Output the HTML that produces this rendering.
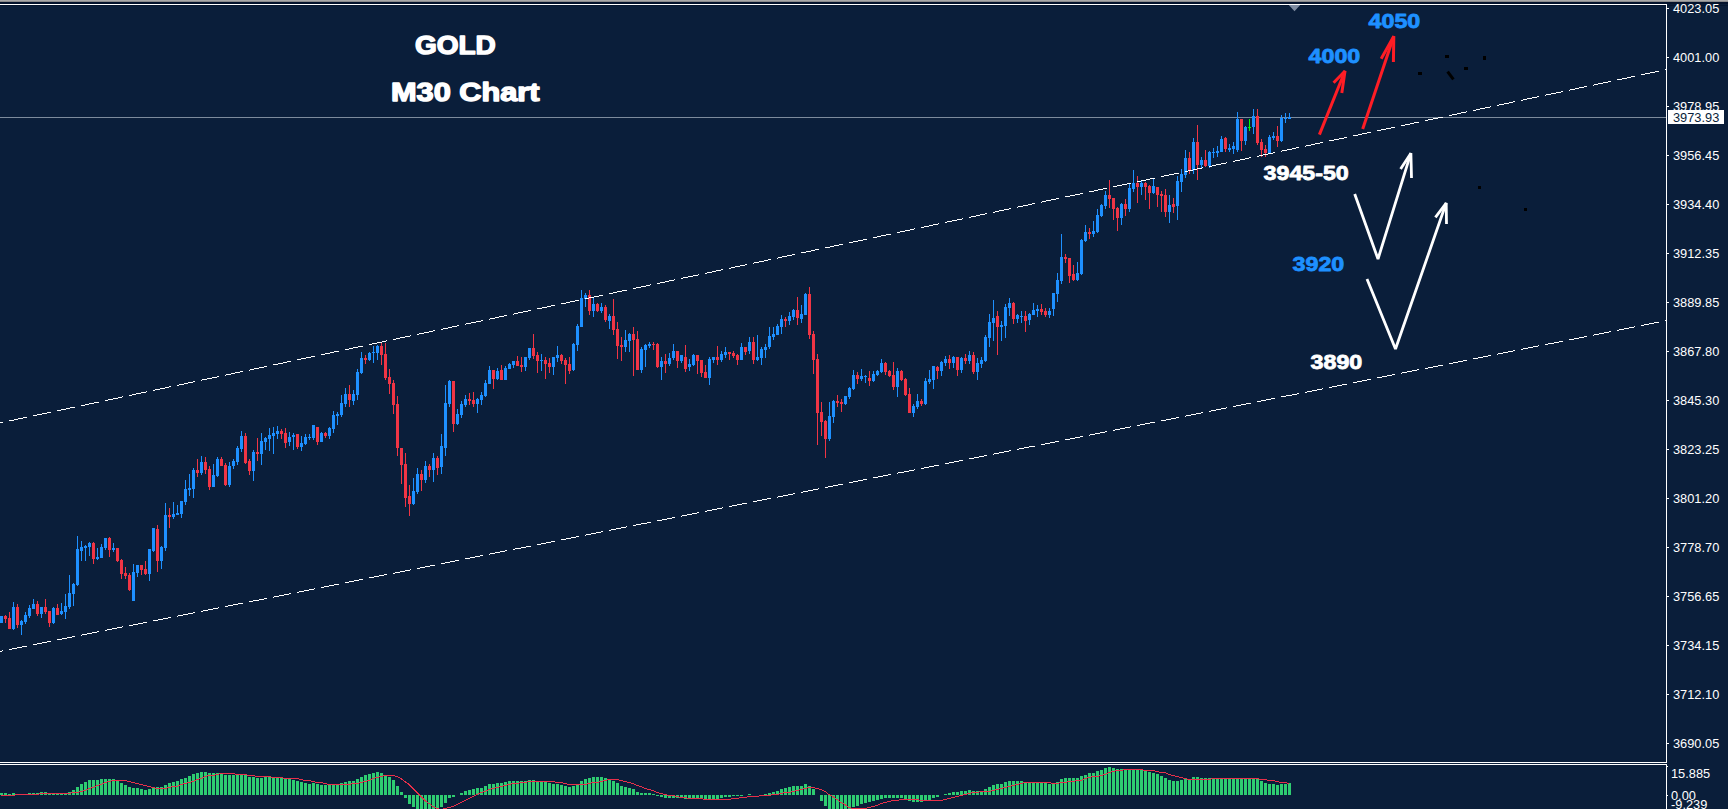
<!DOCTYPE html>
<html><head><meta charset="utf-8"><title>GOLD M30 Chart</title>
<style>
html,body{margin:0;padding:0;background:#0a1e3a;overflow:hidden}
body{width:1728px;height:809px;font-family:"Liberation Sans",sans-serif}
svg{display:block}
text{font-family:"Liberation Sans",sans-serif}
.ax{font-size:12.8px;fill:#fff}
.big{font-weight:bold;paint-order:stroke;stroke-linejoin:round}
</style></head><body>
<svg width="1728" height="809" viewBox="0 0 1728 809">
<rect x="0" y="0" width="1728" height="809" fill="#0a1e3a"/>
<rect x="0" y="0" width="1728" height="1" fill="#a9a9a9"/>
<rect x="0" y="1" width="1728" height="1" fill="#8a8a8c"/>
<rect x="0" y="2" width="1728" height="2" fill="#03122c"/>
<rect x="0" y="5" width="1728" height="1" fill="#05162f"/>
<g shape-rendering="crispEdges">
<rect x="0" y="4" width="1667" height="1" fill="#fff"/>
<rect x="1666" y="4" width="1" height="805" fill="#fff"/>
<rect x="0" y="762" width="1667" height="1" fill="#fff"/>
<rect x="0" y="764" width="1667" height="1" fill="#fff"/>
<rect x="0" y="117" width="1666" height="1" fill="#7d8b9c"/>
<rect x="1667" y="8" width="2" height="1" fill="#fff"/>
<rect x="1667" y="57" width="2" height="1" fill="#fff"/>
<rect x="1667" y="106" width="2" height="1" fill="#fff"/>
<rect x="1667" y="155" width="2" height="1" fill="#fff"/>
<rect x="1667" y="204" width="2" height="1" fill="#fff"/>
<rect x="1667" y="253" width="2" height="1" fill="#fff"/>
<rect x="1667" y="302" width="2" height="1" fill="#fff"/>
<rect x="1667" y="351" width="2" height="1" fill="#fff"/>
<rect x="1667" y="400" width="2" height="1" fill="#fff"/>
<rect x="1667" y="449" width="2" height="1" fill="#fff"/>
<rect x="1667" y="498" width="2" height="1" fill="#fff"/>
<rect x="1667" y="547" width="2" height="1" fill="#fff"/>
<rect x="1667" y="596" width="2" height="1" fill="#fff"/>
<rect x="1667" y="645" width="2" height="1" fill="#fff"/>
<rect x="1667" y="694" width="2" height="1" fill="#fff"/>
<rect x="1667" y="743" width="2" height="1" fill="#fff"/>
</g>
<text class="ax" x="1673" y="13">4023.05</text>
<text class="ax" x="1673" y="62">4001.00</text>
<text class="ax" x="1673" y="111">3978.95</text>
<text class="ax" x="1673" y="160">3956.45</text>
<text class="ax" x="1673" y="209">3934.40</text>
<text class="ax" x="1673" y="258">3912.35</text>
<text class="ax" x="1673" y="307">3889.85</text>
<text class="ax" x="1673" y="356">3867.80</text>
<text class="ax" x="1673" y="405">3845.30</text>
<text class="ax" x="1673" y="454">3823.25</text>
<text class="ax" x="1673" y="503">3801.20</text>
<text class="ax" x="1673" y="552">3778.70</text>
<text class="ax" x="1673" y="601">3756.65</text>
<text class="ax" x="1673" y="650">3734.15</text>
<text class="ax" x="1673" y="699">3712.10</text>
<text class="ax" x="1673" y="748">3690.05</text>
<rect x="1668" y="110" width="56" height="14" fill="#fff" shape-rendering="crispEdges"/>
<text class="ax" x="1673" y="122" style="fill:#0a1e3a">3973.93</text>
<g shape-rendering="crispEdges"><rect x="1667" y="766" width="1" height="1" fill="#fff"/><rect x="1667" y="795" width="1" height="1" fill="#fff"/><rect x="1666" y="763" width="1" height="1" fill="#0a1e3a"/></g>
<text class="ax" x="1671" y="778">15.885</text>
<text class="ax" x="1671" y="800">0.00</text>
<text class="ax" x="1671" y="809">-9.239</text>
<g shape-rendering="crispEdges">
<path d="M0 616h3v7h-3zM12 607h3v22h-3zM13 602h1v5h-1zM13 629h1v1h-1zM20 621h3v4h-3zM21 620h1v1h-1zM21 625h1v10h-1zM24 615h3v7h-3zM25 612h1v3h-1zM25 622h1v2h-1zM28 608h3v8h-3zM29 605h1v3h-1zM29 616h1v2h-1zM32 604h3v5h-3zM33 599h1v5h-1zM40 607h3v7h-3zM41 614h1v4h-1zM52 608h3v15h-3zM53 607h1v1h-1zM53 623h1v1h-1zM60 611h3v3h-3zM61 603h1v8h-1zM61 614h1v1h-1zM64 606h3v6h-3zM65 594h1v12h-1zM65 612h1v7h-1zM68 593h3v14h-3zM69 575h1v18h-1zM69 607h1v2h-1zM72 584h3v10h-3zM73 583h1v1h-1zM73 594h1v12h-1zM76 549h3v36h-3zM77 536h1v13h-1zM77 585h1v1h-1zM80 547h3v4h-3zM81 541h1v6h-1zM81 551h1v10h-1zM84 546h3v2h-3zM85 545h1v1h-1zM85 548h1v13h-1zM88 543h3v4h-3zM89 542h1v1h-1zM89 547h1v9h-1zM96 557h3v2h-3zM97 548h1v9h-1zM97 559h1v1h-1zM100 547h3v11h-3zM101 544h1v3h-1zM104 538h3v10h-3zM105 548h1v2h-1zM112 548h3v2h-3zM113 543h1v5h-1zM113 550h1v2h-1zM132 572h3v29h-3zM133 564h1v8h-1zM136 565h3v8h-3zM137 573h1v4h-1zM148 549h3v25h-3zM149 574h1v7h-1zM152 528h3v23h-3zM153 551h1v1h-1zM160 547h3v14h-3zM161 546h1v1h-1zM161 561h1v8h-1zM164 515h3v33h-3zM165 503h1v12h-1zM165 548h1v3h-1zM172 514h3v3h-3zM173 502h1v12h-1zM173 517h1v2h-1zM176 513h3v2h-3zM177 505h1v8h-1zM180 501h3v13h-3zM181 514h1v4h-1zM184 489h3v13h-3zM185 480h1v9h-1zM185 502h1v3h-1zM188 488h3v2h-3zM189 474h1v14h-1zM189 490h1v6h-1zM192 470h3v19h-3zM193 468h1v2h-1zM193 489h1v9h-1zM200 462h3v11h-3zM201 456h1v6h-1zM201 473h1v2h-1zM212 475h3v12h-3zM213 464h1v11h-1zM216 459h3v17h-3zM217 457h1v2h-1zM217 476h1v1h-1zM228 466h3v19h-3zM229 462h1v4h-1zM229 485h1v2h-1zM232 461h3v5h-3zM233 459h1v2h-1zM233 466h1v3h-1zM236 448h3v14h-3zM237 446h1v2h-1zM237 462h1v3h-1zM240 436h3v13h-3zM241 431h1v5h-1zM241 449h1v3h-1zM252 452h3v19h-3zM253 450h1v2h-1zM253 471h1v10h-1zM260 441h3v13h-3zM261 433h1v8h-1zM261 454h1v11h-1zM264 438h3v4h-3zM265 437h1v1h-1zM265 442h1v8h-1zM268 435h3v4h-3zM269 428h1v7h-1zM269 439h1v12h-1zM272 433h3v3h-3zM273 427h1v6h-1zM273 436h1v18h-1zM276 431h3v3h-3zM277 426h1v5h-1zM277 434h1v5h-1zM288 437h3v5h-3zM289 432h1v5h-1zM289 442h1v4h-1zM292 435h3v2h-3zM293 433h1v2h-1zM293 437h1v13h-1zM300 443h3v4h-3zM301 436h1v7h-1zM301 447h1v4h-1zM304 437h3v7h-3zM305 434h1v3h-1zM305 444h1v1h-1zM308 437h3v1h-3zM309 434h1v3h-1zM309 438h1v2h-1zM312 425h3v13h-3zM313 438h1v2h-1zM320 433h3v9h-3zM321 432h1v1h-1zM328 428h3v8h-3zM329 427h1v1h-1zM329 436h1v3h-1zM332 415h3v14h-3zM333 411h1v4h-1zM333 429h1v4h-1zM336 414h3v2h-3zM337 412h1v2h-1zM337 416h1v9h-1zM340 403h3v12h-3zM341 395h1v8h-1zM341 415h1v2h-1zM344 394h3v10h-3zM345 388h1v6h-1zM345 404h1v3h-1zM352 394h3v7h-3zM353 390h1v4h-1zM353 401h1v4h-1zM356 372h3v23h-3zM357 369h1v3h-1zM357 395h1v5h-1zM360 358h3v15h-3zM361 352h1v6h-1zM361 373h1v1h-1zM368 353h3v7h-3zM369 352h1v1h-1zM369 360h1v1h-1zM372 352h3v1h-3zM373 346h1v6h-1zM373 353h1v10h-1zM376 346h3v7h-3zM377 345h1v1h-1zM377 353h1v7h-1zM412 491h3v13h-3zM413 478h1v13h-1zM413 504h1v1h-1zM416 474h3v18h-3zM417 468h1v6h-1zM417 492h1v2h-1zM424 466h3v14h-3zM425 461h1v5h-1zM425 480h1v3h-1zM432 458h3v12h-3zM433 453h1v5h-1zM433 470h1v12h-1zM440 446h3v21h-3zM441 434h1v12h-1zM441 467h1v7h-1zM444 403h3v45h-3zM445 385h1v18h-1zM445 448h1v8h-1zM448 381h3v23h-3zM449 380h1v1h-1zM449 404h1v3h-1zM456 414h3v10h-3zM457 409h1v5h-1zM457 424h1v1h-1zM460 404h3v11h-3zM461 401h1v3h-1zM461 415h1v3h-1zM464 399h3v6h-3zM465 395h1v4h-1zM465 405h1v2h-1zM476 399h3v5h-3zM477 398h1v1h-1zM477 404h1v9h-1zM480 395h3v5h-3zM481 392h1v3h-1zM481 400h1v5h-1zM484 383h3v13h-3zM485 380h1v3h-1zM485 396h1v1h-1zM488 370h3v14h-3zM489 366h1v4h-1zM496 371h3v8h-3zM497 368h1v3h-1zM497 379h1v1h-1zM504 368h3v12h-3zM505 366h1v2h-1zM508 364h3v5h-3zM509 363h1v1h-1zM512 361h3v4h-3zM513 365h1v3h-1zM524 357h3v10h-3zM525 367h1v4h-1zM528 348h3v10h-3zM529 358h1v2h-1zM540 360h3v1h-3zM541 354h1v6h-1zM541 361h1v10h-1zM552 357h3v10h-3zM553 367h1v8h-1zM556 355h3v3h-3zM557 346h1v9h-1zM557 358h1v4h-1zM572 344h3v26h-3zM573 343h1v1h-1zM573 370h1v1h-1zM576 326h3v19h-3zM577 324h1v2h-1zM577 345h1v6h-1zM580 298h3v29h-3zM581 290h1v8h-1zM584 295h3v4h-3zM585 293h1v2h-1zM585 299h1v8h-1zM592 304h3v7h-3zM593 298h1v6h-1zM593 311h1v6h-1zM600 307h3v4h-3zM601 303h1v4h-1zM601 311h1v2h-1zM608 316h3v5h-3zM609 314h1v2h-1zM609 321h1v8h-1zM624 340h3v7h-3zM625 330h1v10h-1zM625 347h1v5h-1zM628 334h3v7h-3zM629 333h1v1h-1zM629 341h1v11h-1zM640 349h3v21h-3zM641 347h1v2h-1zM641 370h1v3h-1zM644 345h3v5h-3zM645 344h1v1h-1zM645 350h1v17h-1zM648 344h3v2h-3zM649 342h1v2h-1zM649 346h1v2h-1zM660 361h3v6h-3zM661 357h1v4h-1zM661 367h1v13h-1zM668 358h3v6h-3zM669 353h1v5h-1zM669 364h1v2h-1zM672 351h3v7h-3zM673 344h1v7h-1zM673 358h1v2h-1zM680 355h3v6h-3zM681 361h1v2h-1zM688 364h3v3h-3zM689 359h1v5h-1zM689 367h1v4h-1zM692 355h3v10h-3zM693 354h1v1h-1zM693 365h1v1h-1zM708 359h3v19h-3zM709 357h1v2h-1zM709 378h1v7h-1zM712 357h3v3h-3zM713 360h1v3h-1zM720 354h3v6h-3zM721 351h1v3h-1zM721 360h1v2h-1zM724 352h3v3h-3zM725 347h1v5h-1zM725 355h1v3h-1zM740 347h3v13h-3zM741 343h1v4h-1zM748 342h3v9h-3zM749 337h1v5h-1zM749 351h1v3h-1zM756 357h3v3h-3zM757 335h1v22h-1zM757 360h1v1h-1zM760 349h3v9h-3zM761 347h1v2h-1zM761 358h1v7h-1zM764 347h3v3h-3zM765 344h1v3h-1zM765 350h1v8h-1zM768 336h3v11h-3zM769 327h1v9h-1zM769 347h1v2h-1zM772 334h3v3h-3zM773 327h1v7h-1zM773 337h1v3h-1zM776 326h3v9h-3zM777 324h1v2h-1zM780 319h3v8h-3zM781 315h1v4h-1zM781 327h1v7h-1zM788 316h3v5h-3zM789 312h1v4h-1zM789 321h1v4h-1zM792 310h3v7h-3zM793 309h1v1h-1zM793 317h1v3h-1zM800 314h3v5h-3zM801 305h1v9h-1zM801 319h1v4h-1zM804 294h3v21h-3zM805 293h1v1h-1zM828 416h3v23h-3zM829 402h1v14h-1zM829 439h1v2h-1zM832 401h3v16h-3zM833 400h1v1h-1zM833 417h1v6h-1zM844 396h3v8h-3zM845 404h1v1h-1zM848 388h3v9h-3zM849 387h1v1h-1zM849 397h1v2h-1zM852 375h3v14h-3zM853 370h1v5h-1zM853 389h1v1h-1zM860 376h3v3h-3zM861 369h1v7h-1zM861 379h1v2h-1zM864 376h3v1h-3zM865 375h1v1h-1zM865 377h1v6h-1zM872 374h3v7h-3zM873 371h1v3h-1zM873 381h1v1h-1zM876 371h3v4h-3zM877 370h1v1h-1zM877 375h1v1h-1zM880 363h3v9h-3zM881 359h1v4h-1zM881 372h1v1h-1zM896 371h3v16h-3zM897 368h1v3h-1zM897 387h1v10h-1zM912 406h3v7h-3zM913 404h1v2h-1zM913 413h1v4h-1zM916 401h3v6h-3zM917 394h1v7h-1zM917 407h1v2h-1zM924 381h3v23h-3zM925 378h1v3h-1zM925 404h1v1h-1zM928 379h3v3h-3zM929 370h1v9h-1zM929 382h1v2h-1zM932 366h3v14h-3zM933 380h1v9h-1zM940 362h3v9h-3zM941 361h1v1h-1zM941 371h1v5h-1zM944 359h3v4h-3zM945 356h1v3h-1zM945 363h1v3h-1zM952 357h3v6h-3zM953 356h1v1h-1zM953 363h1v5h-1zM960 358h3v12h-3zM961 357h1v1h-1zM961 370h1v3h-1zM968 355h3v6h-3zM969 351h1v4h-1zM969 361h1v3h-1zM976 363h3v9h-3zM977 358h1v5h-1zM977 372h1v8h-1zM980 360h3v4h-3zM981 357h1v3h-1zM981 364h1v4h-1zM984 337h3v24h-3zM985 335h1v2h-1zM985 361h1v1h-1zM988 322h3v16h-3zM989 314h1v8h-1zM989 338h1v9h-1zM992 318h3v5h-3zM993 300h1v18h-1zM993 323h1v18h-1zM1000 325h3v2h-3zM1001 321h1v4h-1zM1001 327h1v14h-1zM1004 307h3v19h-3zM1005 304h1v3h-1zM1005 326h1v12h-1zM1008 303h3v5h-3zM1009 298h1v5h-1zM1009 308h1v8h-1zM1016 315h3v4h-3zM1017 314h1v1h-1zM1017 319h1v4h-1zM1020 316h3v1h-3zM1021 311h1v5h-1zM1021 317h1v6h-1zM1028 314h3v6h-3zM1029 313h1v1h-1zM1029 320h1v5h-1zM1032 310h3v5h-3zM1033 303h1v7h-1zM1036 309h3v2h-3zM1037 305h1v4h-1zM1037 311h1v6h-1zM1048 311h3v4h-3zM1049 308h1v3h-1zM1049 315h1v3h-1zM1052 293h3v16h-3zM1053 309h1v7h-1zM1056 280h3v14h-3zM1057 273h1v7h-1zM1057 294h1v8h-1zM1060 257h3v24h-3zM1061 234h1v23h-1zM1061 281h1v3h-1zM1076 273h3v7h-3zM1077 262h1v11h-1zM1077 280h1v1h-1zM1080 240h3v34h-3zM1081 239h1v1h-1zM1081 274h1v1h-1zM1084 232h3v9h-3zM1085 225h1v7h-1zM1085 241h1v1h-1zM1092 231h3v3h-3zM1093 221h1v10h-1zM1093 234h1v3h-1zM1096 215h3v17h-3zM1097 209h1v6h-1zM1097 232h1v1h-1zM1100 205h3v11h-3zM1101 204h1v1h-1zM1101 216h1v1h-1zM1104 195h3v11h-3zM1105 191h1v4h-1zM1105 206h1v3h-1zM1120 204h3v14h-3zM1121 203h1v1h-1zM1121 218h1v7h-1zM1128 188h3v21h-3zM1129 184h1v4h-1zM1129 209h1v3h-1zM1132 183h3v6h-3zM1133 170h1v13h-1zM1133 189h1v3h-1zM1140 183h3v4h-3zM1141 181h1v2h-1zM1141 187h1v8h-1zM1152 186h3v7h-3zM1153 178h1v8h-1zM1153 193h1v1h-1zM1168 205h3v7h-3zM1169 195h1v10h-1zM1169 212h1v11h-1zM1176 181h3v25h-3zM1177 176h1v5h-1zM1177 206h1v14h-1zM1180 174h3v8h-3zM1181 169h1v5h-1zM1181 182h1v10h-1zM1184 158h3v17h-3zM1185 150h1v8h-1zM1185 175h1v3h-1zM1192 142h3v28h-3zM1193 138h1v4h-1zM1193 170h1v4h-1zM1200 160h3v5h-3zM1201 157h1v3h-1zM1201 165h1v3h-1zM1208 152h3v14h-3zM1209 151h1v1h-1zM1209 166h1v2h-1zM1212 152h3v1h-3zM1213 148h1v4h-1zM1213 153h1v5h-1zM1216 151h3v2h-3zM1217 146h1v5h-1zM1217 153h1v4h-1zM1220 139h3v13h-3zM1221 136h1v3h-1zM1228 148h3v2h-3zM1229 144h1v4h-1zM1229 150h1v2h-1zM1232 146h3v3h-3zM1233 142h1v4h-1zM1233 149h1v5h-1zM1236 119h3v31h-3zM1237 112h1v7h-1zM1237 150h1v2h-1zM1244 127h3v14h-3zM1245 126h1v1h-1zM1245 141h1v4h-1zM1252 116h3v11h-3zM1253 109h1v7h-1zM1253 127h1v7h-1zM1268 137h3v16h-3zM1269 135h1v2h-1zM1272 136h3v2h-3zM1273 132h1v4h-1zM1273 138h1v2h-1zM1280 118h3v23h-3zM1281 115h1v3h-1zM1281 141h1v1h-1zM1284 118h3v1h-3zM1285 113h1v5h-1zM1285 119h1v4h-1zM1288 117h3v2h-3zM1289 113h1v4h-1z" fill="#1e90ff"/>
<path d="M4 616h3v3h-3zM5 615h1v1h-1zM5 619h1v4h-1zM8 618h3v11h-3zM9 612h1v6h-1zM16 607h3v18h-3zM17 604h1v3h-1zM17 625h1v3h-1zM36 604h3v10h-3zM37 601h1v3h-1zM37 614h1v2h-1zM44 607h3v5h-3zM45 599h1v8h-1zM45 612h1v2h-1zM48 611h3v12h-3zM49 623h1v4h-1zM56 608h3v7h-3zM57 604h1v4h-1zM92 543h3v16h-3zM93 542h1v1h-1zM93 559h1v5h-1zM108 538h3v12h-3zM109 537h1v1h-1zM109 550h1v7h-1zM116 548h3v13h-3zM117 561h1v1h-1zM120 560h3v14h-3zM121 559h1v1h-1zM121 574h1v5h-1zM124 573h3v3h-3zM125 567h1v6h-1zM125 576h1v3h-1zM128 575h3v15h-3zM129 573h1v2h-1zM129 590h1v1h-1zM140 565h3v5h-3zM141 570h1v5h-1zM144 569h3v5h-3zM145 561h1v8h-1zM145 574h1v1h-1zM156 529h3v32h-3zM157 525h1v4h-1zM157 561h1v11h-1zM168 515h3v2h-3zM169 508h1v7h-1zM169 517h1v11h-1zM196 470h3v3h-3zM197 459h1v11h-1zM197 473h1v4h-1zM204 462h3v8h-3zM205 457h1v5h-1zM205 470h1v4h-1zM208 469h3v18h-3zM209 466h1v3h-1zM209 487h1v3h-1zM220 459h3v7h-3zM221 457h1v2h-1zM224 465h3v20h-3zM225 463h1v2h-1zM225 485h1v1h-1zM244 436h3v27h-3zM245 433h1v3h-1zM245 463h1v1h-1zM248 461h3v10h-3zM249 459h1v2h-1zM249 471h1v4h-1zM256 452h3v2h-3zM257 438h1v14h-1zM257 454h1v7h-1zM280 431h3v3h-3zM281 429h1v2h-1zM281 434h1v5h-1zM284 433h3v10h-3zM285 428h1v5h-1zM285 443h1v5h-1zM296 434h3v13h-3zM297 447h1v2h-1zM316 427h3v15h-3zM317 442h1v3h-1zM324 433h3v3h-3zM325 432h1v1h-1zM325 436h1v2h-1zM348 394h3v6h-3zM349 385h1v9h-1zM349 400h1v7h-1zM364 358h3v2h-3zM365 355h1v3h-1zM365 360h1v4h-1zM380 346h3v9h-3zM381 342h1v4h-1zM381 355h1v10h-1zM384 354h3v24h-3zM385 343h1v11h-1zM385 378h1v2h-1zM388 377h3v7h-3zM389 369h1v8h-1zM389 384h1v10h-1zM392 383h3v22h-3zM393 380h1v3h-1zM393 405h1v9h-1zM396 404h3v44h-3zM397 396h1v8h-1zM397 448h1v8h-1zM400 448h3v17h-3zM401 465h1v19h-1zM404 464h3v34h-3zM405 453h1v11h-1zM405 498h1v9h-1zM408 496h3v8h-3zM409 485h1v11h-1zM409 504h1v12h-1zM420 474h3v6h-3zM421 470h1v4h-1zM421 480h1v11h-1zM428 466h3v4h-3zM429 464h1v2h-1zM429 470h1v7h-1zM436 458h3v10h-3zM437 456h1v2h-1zM437 468h1v7h-1zM452 381h3v43h-3zM453 424h1v8h-1zM468 399h3v2h-3zM469 393h1v6h-1zM469 401h1v4h-1zM472 400h3v4h-3zM473 392h1v8h-1zM473 404h1v3h-1zM492 370h3v9h-3zM493 379h1v10h-1zM500 370h3v10h-3zM501 365h1v5h-1zM516 361h3v5h-3zM517 356h1v5h-1zM520 365h3v2h-3zM521 357h1v8h-1zM521 367h1v5h-1zM532 348h3v8h-3zM533 334h1v14h-1zM533 356h1v3h-1zM536 355h3v6h-3zM537 352h1v3h-1zM537 361h1v12h-1zM544 360h3v4h-3zM545 357h1v3h-1zM545 364h1v15h-1zM548 363h3v4h-3zM549 358h1v5h-1zM549 367h1v6h-1zM560 355h3v6h-3zM561 354h1v1h-1zM561 361h1v3h-1zM564 360h3v5h-3zM565 358h1v2h-1zM565 365h1v19h-1zM568 364h3v7h-3zM569 357h1v7h-1zM569 371h1v3h-1zM588 295h3v16h-3zM589 290h1v5h-1zM589 311h1v4h-1zM596 304h3v7h-3zM597 303h1v1h-1zM597 311h1v1h-1zM604 307h3v13h-3zM605 305h1v2h-1zM605 320h1v2h-1zM612 316h3v14h-3zM613 299h1v17h-1zM613 330h1v5h-1zM616 329h3v17h-3zM617 322h1v7h-1zM617 346h1v13h-1zM620 345h3v2h-3zM621 337h1v8h-1zM621 347h1v14h-1zM632 334h3v6h-3zM633 327h1v7h-1zM633 340h1v36h-1zM636 339h3v31h-3zM637 331h1v8h-1zM652 344h3v1h-3zM653 342h1v2h-1zM653 345h1v5h-1zM656 344h3v23h-3zM657 343h1v1h-1zM657 367h1v1h-1zM664 361h3v3h-3zM665 354h1v7h-1zM665 364h1v9h-1zM676 351h3v10h-3zM677 361h1v7h-1zM684 357h3v12h-3zM685 345h1v12h-1zM685 369h1v3h-1zM696 355h3v6h-3zM697 361h1v13h-1zM700 360h3v13h-3zM701 373h1v4h-1zM704 372h3v6h-3zM705 365h1v7h-1zM716 357h3v3h-3zM717 346h1v11h-1zM717 360h1v5h-1zM728 352h3v2h-3zM729 354h1v6h-1zM732 353h3v3h-3zM733 351h1v2h-1zM733 356h1v2h-1zM736 355h3v5h-3zM737 354h1v1h-1zM737 360h1v5h-1zM744 347h3v5h-3zM745 352h1v3h-1zM752 342h3v18h-3zM753 337h1v5h-1zM753 360h1v4h-1zM784 319h3v2h-3zM785 317h1v2h-1zM785 321h1v6h-1zM796 310h3v8h-3zM797 297h1v13h-1zM797 318h1v7h-1zM808 294h3v41h-3zM809 287h1v7h-1zM809 335h1v4h-1zM812 334h3v26h-3zM813 331h1v3h-1zM813 360h1v14h-1zM816 359h3v54h-3zM817 354h1v5h-1zM817 413h1v32h-1zM820 412h3v10h-3zM821 402h1v10h-1zM821 422h1v14h-1zM824 421h3v18h-3zM825 420h1v1h-1zM825 439h1v19h-1zM836 401h3v2h-3zM837 395h1v6h-1zM837 403h1v4h-1zM840 402h3v2h-3zM841 399h1v3h-1zM841 404h1v8h-1zM856 375h3v4h-3zM857 372h1v3h-1zM857 379h1v5h-1zM868 378h3v3h-3zM869 371h1v7h-1zM869 381h1v5h-1zM884 363h3v9h-3zM885 362h1v1h-1zM885 372h1v3h-1zM888 371h3v5h-3zM889 370h1v1h-1zM889 376h1v1h-1zM892 375h3v12h-3zM893 362h1v13h-1zM893 387h1v3h-1zM900 371h3v9h-3zM901 370h1v1h-1zM901 380h1v1h-1zM904 379h3v16h-3zM905 378h1v1h-1zM905 395h1v1h-1zM908 394h3v19h-3zM909 388h1v6h-1zM920 401h3v3h-3zM921 399h1v2h-1zM921 404h1v2h-1zM936 367h3v4h-3zM937 366h1v1h-1zM937 371h1v8h-1zM948 359h3v4h-3zM949 355h1v4h-1zM949 363h1v6h-1zM956 357h3v13h-3zM957 370h1v6h-1zM964 358h3v3h-3zM965 354h1v4h-1zM965 361h1v3h-1zM972 355h3v17h-3zM973 352h1v3h-1zM973 372h1v2h-1zM996 316h3v11h-3zM997 311h1v5h-1zM997 327h1v28h-1zM1012 303h3v16h-3zM1013 302h1v1h-1zM1013 319h1v5h-1zM1024 316h3v5h-3zM1025 311h1v5h-1zM1025 321h1v11h-1zM1040 309h3v3h-3zM1041 304h1v5h-1zM1041 312h1v3h-1zM1044 311h3v4h-3zM1045 308h1v3h-1zM1045 315h1v2h-1zM1064 257h3v2h-3zM1065 254h1v3h-1zM1065 259h1v4h-1zM1068 258h3v18h-3zM1069 276h1v7h-1zM1072 274h3v6h-3zM1073 265h1v9h-1zM1073 280h1v1h-1zM1088 232h3v2h-3zM1089 228h1v4h-1zM1089 234h1v5h-1zM1108 195h3v4h-3zM1109 180h1v15h-1zM1109 199h1v9h-1zM1112 198h3v11h-3zM1113 209h1v11h-1zM1116 208h3v10h-3zM1117 207h1v1h-1zM1117 218h1v13h-1zM1124 204h3v5h-3zM1125 199h1v5h-1zM1125 209h1v7h-1zM1136 183h3v4h-3zM1137 176h1v7h-1zM1137 187h1v16h-1zM1144 183h3v4h-3zM1145 182h1v1h-1zM1145 187h1v13h-1zM1148 186h3v7h-3zM1149 185h1v1h-1zM1149 193h1v16h-1zM1156 187h3v8h-3zM1157 195h1v12h-1zM1160 194h3v2h-3zM1161 191h1v3h-1zM1161 196h1v16h-1zM1164 195h3v17h-3zM1165 189h1v6h-1zM1165 212h1v5h-1zM1172 204h3v3h-3zM1173 198h1v6h-1zM1173 207h1v6h-1zM1188 158h3v13h-3zM1189 152h1v6h-1zM1189 171h1v3h-1zM1196 142h3v23h-3zM1197 125h1v17h-1zM1197 165h1v15h-1zM1204 160h3v6h-3zM1205 150h1v10h-1zM1205 166h1v1h-1zM1224 138h3v11h-3zM1225 137h1v1h-1zM1225 149h1v3h-1zM1240 119h3v22h-3zM1241 141h1v10h-1zM1256 116h3v27h-3zM1257 109h1v7h-1zM1257 143h1v2h-1zM1260 142h3v8h-3zM1261 139h1v3h-1zM1261 150h1v7h-1zM1264 149h3v4h-3zM1265 145h1v4h-1zM1265 153h1v4h-1zM1276 136h3v5h-3zM1277 126h1v10h-1zM1277 141h1v6h-1z" fill="#f03545"/>
<path d="M1248 127h3v1h-3zM1249 119h1v8h-1zM1249 128h1v3h-1z" fill="#00ff00"/>
</g>
<path d="M0 422.5h3M9 420.5h5M14 419.5h4M18 418.5h5M23 417.5h4M33 415.5h4M37 414.5h5M42 413.5h5M47 412.5h4M57 410.5h4M61 409.5h5M66 408.5h4M70 407.5h5M81 405.5h4M85 404.5h4M89 403.5h5M94 402.5h5M105 400.5h3M108 399.5h5M113 398.5h5M118 397.5h4M122 396.5h1M129 395.5h3M132 394.5h4M136 393.5h5M141 392.5h5M146 391.5h1M153 390.5h2M155 389.5h5M160 388.5h5M165 387.5h4M169 386.5h2M177 385.5h2M179 384.5h5M184 383.5h4M188 382.5h5M193 381.5h2M201 380.5h1M202 379.5h5M207 378.5h5M212 377.5h5M217 376.5h2M225 375.5h1M226 374.5h5M231 373.5h4M235 372.5h5M240 371.5h3M249 370.5h1M250 369.5h4M254 368.5h5M259 367.5h5M264 366.5h3M273 364.5h5M278 363.5h5M283 362.5h4M287 361.5h4M297 359.5h4M301 358.5h5M306 357.5h5M311 356.5h4M321 354.5h4M325 353.5h5M330 352.5h4M334 351.5h5M345 349.5h4M349 348.5h4M353 347.5h5M358 346.5h5M369 344.5h3M372 343.5h5M377 342.5h5M382 341.5h4M386 340.5h1M393 339.5h3M396 338.5h4M400 337.5h5M405 336.5h5M410 335.5h1M417 334.5h2M419 333.5h5M424 332.5h5M429 331.5h4M433 330.5h2M441 329.5h2M443 328.5h5M448 327.5h4M452 326.5h5M457 325.5h2M465 324.5h1M466 323.5h5M471 322.5h5M476 321.5h5M481 320.5h2M489 319.5h1M490 318.5h5M495 317.5h4M499 316.5h5M504 315.5h3M513 314.5h1M514 313.5h4M518 312.5h5M523 311.5h5M528 310.5h3M537 308.5h5M542 307.5h5M547 306.5h4M551 305.5h4M561 303.5h5M566 302.5h4M570 301.5h5M575 300.5h4M585 298.5h4M589 297.5h5M594 296.5h5M599 295.5h4M609 293.5h4M613 292.5h4M617 291.5h5M622 290.5h5M633 288.5h3M636 287.5h5M641 286.5h5M646 285.5h4M650 284.5h1M657 283.5h3M660 282.5h5M665 281.5h4M669 280.5h5M674 279.5h1M681 278.5h2M683 277.5h5M688 276.5h5M693 275.5h5M698 274.5h1M705 273.5h2M707 272.5h5M712 271.5h4M716 270.5h5M721 269.5h2M729 268.5h2M731 267.5h4M735 266.5h5M740 265.5h5M745 264.5h2M753 263.5h1M754 262.5h5M759 261.5h5M764 260.5h4M768 259.5h3M777 258.5h1M778 257.5h4M782 256.5h5M787 255.5h5M792 254.5h3M801 252.5h5M806 251.5h5M811 250.5h4M815 249.5h4M825 247.5h5M830 246.5h4M834 245.5h5M839 244.5h4M849 242.5h4M853 241.5h5M858 240.5h5M863 239.5h4M873 237.5h4M877 236.5h4M881 235.5h5M886 234.5h5M897 232.5h3M900 231.5h5M905 230.5h5M910 229.5h4M914 228.5h1M921 227.5h3M924 226.5h5M929 225.5h4M933 224.5h5M938 223.5h1M945 222.5h2M947 221.5h5M952 220.5h5M957 219.5h5M962 218.5h1M969 217.5h2M971 216.5h5M976 215.5h4M980 214.5h5M985 213.5h2M993 212.5h2M995 211.5h4M999 210.5h5M1004 209.5h5M1009 208.5h2M1017 207.5h1M1018 206.5h5M1023 205.5h5M1028 204.5h4M1032 203.5h3M1041 202.5h1M1042 201.5h4M1046 200.5h5M1051 199.5h5M1056 198.5h3M1065 196.5h5M1070 195.5h5M1075 194.5h5M1080 193.5h3M1089 191.5h5M1094 190.5h4M1098 189.5h5M1103 188.5h4M1113 186.5h4M1117 185.5h5M1122 184.5h5M1127 183.5h4M1137 181.5h4M1141 180.5h5M1146 179.5h4M1150 178.5h5M1161 176.5h3M1164 175.5h5M1169 174.5h5M1174 173.5h5M1185 171.5h3M1188 170.5h5M1193 169.5h4M1197 168.5h5M1202 167.5h1M1209 166.5h3M1212 165.5h4M1216 164.5h5M1221 163.5h5M1226 162.5h1M1233 161.5h2M1235 160.5h5M1240 159.5h5M1245 158.5h4M1249 157.5h2M1257 156.5h2M1259 155.5h4M1263 154.5h5M1268 153.5h5M1273 152.5h2M1281 151.5h1M1282 150.5h5M1287 149.5h5M1292 148.5h4M1296 147.5h3M1305 146.5h1M1306 145.5h5M1311 144.5h4M1315 143.5h5M1320 142.5h3M1329 140.5h5M1334 139.5h5M1339 138.5h5M1344 137.5h3M1353 135.5h5M1358 134.5h4M1362 133.5h5M1367 132.5h4M1377 130.5h4M1381 129.5h5M1386 128.5h5M1391 127.5h4M1401 125.5h4M1405 124.5h5M1410 123.5h4M1414 122.5h5M1425 120.5h3M1428 119.5h5M1433 118.5h5M1438 117.5h5M1449 115.5h3M1452 114.5h5M1457 113.5h4M1461 112.5h5M1466 111.5h1M1473 110.5h3M1476 109.5h4M1480 108.5h5M1485 107.5h5M1490 106.5h1M1497 105.5h2M1499 104.5h5M1504 103.5h5M1509 102.5h4M1513 101.5h2M1521 100.5h2M1523 99.5h4M1527 98.5h5M1532 97.5h5M1537 96.5h2M1545 95.5h1M1546 94.5h5M1551 93.5h5M1556 92.5h5M1561 91.5h2M1569 90.5h1M1570 89.5h5M1575 88.5h4M1579 87.5h5M1584 86.5h3M1593 85.5h1M1594 84.5h4M1598 83.5h5M1603 82.5h5M1608 81.5h3M1617 79.5h5M1622 78.5h5M1627 77.5h4M1631 76.5h4M1641 74.5h4M1645 73.5h5M1650 72.5h5M1655 71.5h4M1665 69.5h1" stroke="#fff" stroke-width="1" fill="none" shape-rendering="crispEdges"/>
<path d="M0 651.5h2M2 650.5h1M9 649.5h3M12 648.5h5M17 647.5h5M22 646.5h5M33 644.5h4M37 643.5h5M42 642.5h5M47 641.5h4M57 639.5h5M62 638.5h5M67 637.5h5M72 636.5h3M81 635.5h1M82 634.5h5M87 633.5h5M92 632.5h5M97 631.5h2M105 630.5h2M107 629.5h5M112 628.5h5M117 627.5h5M122 626.5h1M129 625.5h4M133 624.5h5M138 623.5h5M143 622.5h4M153 620.5h5M158 619.5h5M163 618.5h5M168 617.5h3M177 616.5h1M178 615.5h5M183 614.5h5M188 613.5h5M193 612.5h2M201 611.5h2M203 610.5h5M208 609.5h5M213 608.5h5M218 607.5h1M225 606.5h3M228 605.5h5M233 604.5h5M238 603.5h5M249 601.5h4M253 600.5h6M259 599.5h5M264 598.5h3M273 597.5h1M274 596.5h5M279 595.5h5M284 594.5h5M289 593.5h2M297 592.5h2M299 591.5h5M304 590.5h5M309 589.5h5M314 588.5h1M321 587.5h3M324 586.5h5M329 585.5h5M334 584.5h5M345 582.5h4M349 581.5h5M354 580.5h5M359 579.5h4M369 577.5h5M374 576.5h5M379 575.5h5M384 574.5h3M393 573.5h2M395 572.5h5M400 571.5h5M405 570.5h5M410 569.5h1M417 568.5h3M420 567.5h5M425 566.5h5M430 565.5h5M441 563.5h4M445 562.5h5M450 561.5h5M455 560.5h4M465 558.5h5M470 557.5h5M475 556.5h5M480 555.5h3M489 554.5h1M490 553.5h5M495 552.5h5M500 551.5h5M505 550.5h2M513 549.5h2M515 548.5h6M521 547.5h5M526 546.5h5M537 544.5h4M541 543.5h5M546 542.5h5M551 541.5h4M561 539.5h5M566 538.5h5M571 537.5h5M576 536.5h3M585 535.5h1M586 534.5h5M591 533.5h5M596 532.5h5M601 531.5h2M609 530.5h2M611 529.5h5M616 528.5h5M621 527.5h5M626 526.5h1M633 525.5h3M636 524.5h5M641 523.5h6M647 522.5h4M657 520.5h5M662 519.5h5M667 518.5h5M672 517.5h3M681 516.5h1M682 515.5h5M687 514.5h5M692 513.5h5M697 512.5h2M705 511.5h2M707 510.5h5M712 509.5h5M717 508.5h5M722 507.5h1M729 506.5h3M732 505.5h5M737 504.5h5M742 503.5h5M753 501.5h4M757 500.5h5M762 499.5h5M767 498.5h4M777 497.5h1M778 496.5h5M783 495.5h5M788 494.5h5M793 493.5h2M801 492.5h2M803 491.5h5M808 490.5h5M813 489.5h5M818 488.5h1M825 487.5h3M828 486.5h5M833 485.5h5M838 484.5h5M849 482.5h4M853 481.5h5M858 480.5h5M863 479.5h4M873 477.5h5M878 476.5h5M883 475.5h5M888 474.5h3M897 473.5h1M898 472.5h6M904 471.5h5M909 470.5h5M914 469.5h1M921 468.5h3M924 467.5h5M929 466.5h5M934 465.5h5M945 463.5h4M949 462.5h5M954 461.5h5M959 460.5h4M969 458.5h5M974 457.5h5M979 456.5h5M984 455.5h3M993 454.5h1M994 453.5h5M999 452.5h5M1004 451.5h5M1009 450.5h2M1017 449.5h2M1019 448.5h5M1024 447.5h5M1029 446.5h6M1041 444.5h4M1045 443.5h5M1050 442.5h5M1055 441.5h4M1065 439.5h5M1070 438.5h5M1075 437.5h5M1080 436.5h3M1089 435.5h1M1090 434.5h5M1095 433.5h5M1100 432.5h5M1105 431.5h2M1113 430.5h2M1115 429.5h5M1120 428.5h5M1125 427.5h5M1130 426.5h1M1137 425.5h3M1140 424.5h5M1145 423.5h5M1150 422.5h5M1161 420.5h5M1166 419.5h5M1171 418.5h5M1176 417.5h3M1185 416.5h1M1186 415.5h5M1191 414.5h5M1196 413.5h5M1201 412.5h2M1209 411.5h2M1211 410.5h5M1216 409.5h5M1221 408.5h5M1226 407.5h1M1233 406.5h3M1236 405.5h5M1241 404.5h5M1246 403.5h5M1257 401.5h4M1261 400.5h5M1266 399.5h5M1271 398.5h4M1281 396.5h5M1286 395.5h6M1292 394.5h5M1297 393.5h2M1305 392.5h2M1307 391.5h5M1312 390.5h5M1317 389.5h5M1322 388.5h1M1329 387.5h3M1332 386.5h5M1337 385.5h5M1342 384.5h5M1353 382.5h4M1357 381.5h5M1362 380.5h5M1367 379.5h4M1377 377.5h5M1382 376.5h5M1387 375.5h5M1392 374.5h3M1401 373.5h1M1402 372.5h5M1407 371.5h5M1412 370.5h5M1417 369.5h2M1425 368.5h3M1428 367.5h5M1433 366.5h5M1438 365.5h5M1449 363.5h4M1453 362.5h5M1458 361.5h5M1463 360.5h4M1473 358.5h5M1478 357.5h5M1483 356.5h5M1488 355.5h3M1497 354.5h1M1498 353.5h5M1503 352.5h5M1508 351.5h5M1513 350.5h2M1521 349.5h2M1523 348.5h5M1528 347.5h5M1533 346.5h5M1538 345.5h1M1545 344.5h3M1548 343.5h6M1554 342.5h5M1559 341.5h4M1569 339.5h5M1574 338.5h5M1579 337.5h5M1584 336.5h3M1593 335.5h1M1594 334.5h5M1599 333.5h5M1604 332.5h5M1609 331.5h2M1617 330.5h2M1619 329.5h5M1624 328.5h5M1629 327.5h5M1634 326.5h1M1641 325.5h3M1644 324.5h5M1649 323.5h5M1654 322.5h5M1665 320.5h1" stroke="#fff" stroke-width="1" fill="none" shape-rendering="crispEdges"/>
<path d="M0 793h3v2h-3zM4 793h3v2h-3zM8 794h3v1h-3zM12 793h3v2h-3zM16 794h3v1h-3zM20 794h3v1h-3zM24 794h3v1h-3zM28 793h3v2h-3zM32 793h3v2h-3zM36 793h3v2h-3zM40 792h3v3h-3zM44 792h3v3h-3zM48 793h3v2h-3zM52 793h3v2h-3zM56 793h3v2h-3zM60 793h3v2h-3zM64 793h3v2h-3zM68 792h3v3h-3zM72 790h3v5h-3zM76 787h3v8h-3zM80 784h3v11h-3zM84 782h3v13h-3zM88 780h3v15h-3zM92 780h3v15h-3zM96 780h3v15h-3zM100 779h3v16h-3zM104 779h3v16h-3zM108 779h3v16h-3zM112 779h3v16h-3zM116 781h3v14h-3zM120 783h3v12h-3zM124 785h3v10h-3zM128 787h3v8h-3zM132 788h3v7h-3zM136 788h3v7h-3zM140 789h3v6h-3zM144 790h3v5h-3zM148 789h3v6h-3zM152 787h3v8h-3zM156 787h3v8h-3zM160 787h3v8h-3zM164 785h3v10h-3zM168 783h3v12h-3zM172 782h3v13h-3zM176 781h3v14h-3zM180 779h3v16h-3zM184 778h3v17h-3zM188 776h3v19h-3zM192 774h3v21h-3zM196 773h3v22h-3zM200 772h3v23h-3zM204 772h3v23h-3zM208 773h3v22h-3zM212 773h3v22h-3zM216 773h3v22h-3zM220 773h3v22h-3zM224 775h3v20h-3zM228 775h3v20h-3zM232 775h3v20h-3zM236 775h3v20h-3zM240 774h3v21h-3zM244 775h3v20h-3zM248 777h3v18h-3zM252 777h3v18h-3zM256 778h3v17h-3zM260 778h3v17h-3zM264 777h3v18h-3zM268 777h3v18h-3zM272 777h3v18h-3zM276 777h3v18h-3zM280 778h3v17h-3zM284 779h3v16h-3zM288 779h3v16h-3zM292 780h3v15h-3zM296 781h3v14h-3zM300 782h3v13h-3zM304 783h3v12h-3zM308 784h3v11h-3zM312 783h3v12h-3zM316 784h3v11h-3zM320 785h3v10h-3zM324 785h3v10h-3zM328 785h3v10h-3zM332 785h3v10h-3zM336 784h3v11h-3zM340 783h3v12h-3zM344 782h3v13h-3zM348 781h3v14h-3zM352 781h3v14h-3zM356 779h3v16h-3zM360 777h3v18h-3zM364 775h3v20h-3zM368 774h3v21h-3zM372 773h3v22h-3zM376 772h3v23h-3zM380 773h3v22h-3zM384 775h3v20h-3zM388 777h3v18h-3zM392 780h3v15h-3zM396 786h3v9h-3zM400 792h3v3h-3zM404 795h3v3h-3zM408 795h3v9h-3zM412 795h3v12h-3zM416 795h3v14h-3zM420 795h3v14h-3zM424 795h3v14h-3zM428 795h3v14h-3zM432 795h3v14h-3zM436 795h3v14h-3zM440 795h3v12h-3zM444 795h3v8h-3zM448 795h3v3h-3zM452 795h3v2h-3zM460 793h3v2h-3zM464 791h3v4h-3zM468 790h3v5h-3zM472 789h3v6h-3zM476 788h3v7h-3zM480 788h3v7h-3zM484 786h3v9h-3zM488 784h3v11h-3zM492 784h3v11h-3zM496 783h3v12h-3zM500 783h3v12h-3zM504 782h3v13h-3zM508 781h3v14h-3zM512 781h3v14h-3zM516 781h3v14h-3zM520 781h3v14h-3zM524 781h3v14h-3zM528 780h3v15h-3zM532 780h3v15h-3zM536 781h3v14h-3zM540 781h3v14h-3zM544 782h3v13h-3zM548 783h3v12h-3zM552 784h3v11h-3zM556 784h3v11h-3zM560 785h3v10h-3zM564 786h3v9h-3zM568 787h3v8h-3zM572 786h3v9h-3zM576 784h3v11h-3zM580 781h3v14h-3zM584 779h3v16h-3zM588 778h3v17h-3zM592 777h3v18h-3zM596 777h3v18h-3zM600 777h3v18h-3zM604 778h3v17h-3zM608 779h3v16h-3zM612 781h3v14h-3zM616 783h3v12h-3zM620 786h3v9h-3zM624 787h3v8h-3zM628 788h3v7h-3zM632 789h3v6h-3zM636 792h3v3h-3zM640 793h3v2h-3zM644 793h3v2h-3zM648 793h3v2h-3zM652 794h3v1h-3zM656 795h3v1h-3zM660 795h3v2h-3zM664 795h3v3h-3zM668 795h3v3h-3zM672 795h3v3h-3zM676 795h3v3h-3zM680 795h3v3h-3zM684 795h3v4h-3zM688 795h3v4h-3zM692 795h3v4h-3zM696 795h3v4h-3zM700 795h3v4h-3zM704 795h3v5h-3zM708 795h3v5h-3zM712 795h3v4h-3zM716 795h3v4h-3zM720 795h3v3h-3zM724 795h3v2h-3zM728 795h3v2h-3zM732 795h3v1h-3zM736 795h3v1h-3zM740 795h3v1h-3zM748 794h3v1h-3zM764 794h3v1h-3zM768 793h3v2h-3zM772 792h3v3h-3zM776 791h3v4h-3zM780 789h3v6h-3zM784 788h3v7h-3zM788 787h3v8h-3zM792 786h3v9h-3zM796 786h3v9h-3zM800 786h3v9h-3zM804 784h3v11h-3zM808 786h3v9h-3zM812 789h3v6h-3zM820 795h3v6h-3zM824 795h3v11h-3zM828 795h3v14h-3zM832 795h3v14h-3zM836 795h3v14h-3zM840 795h3v14h-3zM844 795h3v14h-3zM848 795h3v14h-3zM852 795h3v12h-3zM856 795h3v11h-3zM860 795h3v9h-3zM864 795h3v8h-3zM868 795h3v7h-3zM872 795h3v6h-3zM876 795h3v5h-3zM880 795h3v4h-3zM884 795h3v3h-3zM888 795h3v3h-3zM892 795h3v3h-3zM896 795h3v3h-3zM900 795h3v3h-3zM904 795h3v4h-3zM908 795h3v6h-3zM912 795h3v7h-3zM916 795h3v7h-3zM920 795h3v7h-3zM924 795h3v6h-3zM928 795h3v5h-3zM932 795h3v3h-3zM936 795h3v2h-3zM944 794h3v1h-3zM948 793h3v2h-3zM952 792h3v3h-3zM956 792h3v3h-3zM960 791h3v4h-3zM964 791h3v4h-3zM968 790h3v5h-3zM972 791h3v4h-3zM976 791h3v4h-3zM980 791h3v4h-3zM984 789h3v6h-3zM988 787h3v8h-3zM992 785h3v10h-3zM996 784h3v11h-3zM1000 784h3v11h-3zM1004 782h3v13h-3zM1008 781h3v14h-3zM1012 781h3v14h-3zM1016 781h3v14h-3zM1020 781h3v14h-3zM1024 782h3v13h-3zM1028 782h3v13h-3zM1032 782h3v13h-3zM1036 782h3v13h-3zM1040 783h3v12h-3zM1044 783h3v12h-3zM1048 784h3v11h-3zM1052 783h3v12h-3zM1056 782h3v13h-3zM1060 779h3v16h-3zM1064 778h3v17h-3zM1068 778h3v17h-3zM1072 778h3v17h-3zM1076 778h3v17h-3zM1080 776h3v19h-3zM1084 775h3v20h-3zM1088 773h3v22h-3zM1092 773h3v22h-3zM1096 771h3v24h-3zM1100 770h3v25h-3zM1104 768h3v27h-3zM1108 767h3v28h-3zM1112 768h3v27h-3zM1116 769h3v26h-3zM1120 769h3v26h-3zM1124 770h3v25h-3zM1128 770h3v25h-3zM1132 769h3v26h-3zM1136 770h3v25h-3zM1140 770h3v25h-3zM1144 771h3v24h-3zM1148 772h3v23h-3zM1152 773h3v22h-3zM1156 774h3v21h-3zM1160 776h3v19h-3zM1164 778h3v17h-3zM1168 780h3v15h-3zM1172 781h3v14h-3zM1176 781h3v14h-3zM1180 780h3v15h-3zM1184 779h3v16h-3zM1188 779h3v16h-3zM1192 777h3v18h-3zM1196 777h3v18h-3zM1200 778h3v17h-3zM1204 778h3v17h-3zM1208 778h3v17h-3zM1212 778h3v17h-3zM1216 778h3v17h-3zM1220 778h3v17h-3zM1224 778h3v17h-3zM1228 779h3v16h-3zM1232 779h3v16h-3zM1236 778h3v17h-3zM1240 779h3v16h-3zM1244 778h3v17h-3zM1248 778h3v17h-3zM1252 778h3v17h-3zM1256 779h3v16h-3zM1260 781h3v14h-3zM1264 783h3v12h-3zM1268 784h3v11h-3zM1272 784h3v11h-3zM1276 785h3v10h-3zM1280 784h3v11h-3zM1284 784h3v11h-3zM1288 783h3v12h-3z" fill="#2ecc71" shape-rendering="crispEdges"/>
<polyline points="1,795.5 5,795.5 9,795.5 13,795.5 17,794.5 21,794.5 25,794.5 29,794.5 33,794.5 37,794.5 41,793.5 45,793.5 49,793.5 53,793.5 57,793.5 61,793.5 65,793.5 69,793.5 73,792.5 77,792.5 81,791.5 85,790.5 89,788.5 93,787.5 97,785.5 101,784.5 105,782.5 109,781.5 113,780.5 117,780.5 121,780.5 125,780.5 129,781.5 133,782.5 137,783.5 141,784.5 145,785.5 149,786.5 153,787.5 157,788.5 161,788.5 165,788.5 169,787.5 173,786.5 177,786.5 181,784.5 185,783.5 189,782.5 193,781.5 197,779.5 201,778.5 205,776.5 209,775.5 213,775.5 217,774.5 221,773.5 225,773.5 229,773.5 233,773.5 237,774.5 241,774.5 245,774.5 249,775.5 253,775.5 257,776.5 261,776.5 265,776.5 269,776.5 273,777.5 277,777.5 281,777.5 285,778.5 289,778.5 293,778.5 297,778.5 301,779.5 305,780.5 309,780.5 313,781.5 317,782.5 321,782.5 325,783.5 329,784.5 333,784.5 337,784.5 341,784.5 345,784.5 349,784.5 353,783.5 357,783.5 361,782.5 365,781.5 369,780.5 373,778.5 377,777.5 381,776.5 385,775.5 389,775.5 393,775.5 397,776.5 401,778.5 405,781.5 409,784.5 413,788.5 417,792.5 421,796.5 425,800.5 429,803.5 433,806.5 437,808.5 441,809.5 445,808.5 449,807.5 453,806.5 457,804.5 461,802.5 465,800.5 469,798.5 473,796.5 477,794.5 481,792.5 485,791.5 489,789.5 493,788.5 497,787.5 501,786.5 505,785.5 509,784.5 513,783.5 517,783.5 521,782.5 525,782.5 529,781.5 533,781.5 537,781.5 541,781.5 545,781.5 549,781.5 553,781.5 557,782.5 561,782.5 565,783.5 569,784.5 573,784.5 577,784.5 581,784.5 585,784.5 589,783.5 593,782.5 597,782.5 601,781.5 605,780.5 609,779.5 613,779.5 617,779.5 621,780.5 625,781.5 629,782.5 633,783.5 637,785.5 641,786.5 645,788.5 649,789.5 653,790.5 657,792.5 661,793.5 665,794.5 669,795.5 673,795.5 677,796.5 681,797.5 685,797.5 689,798.5 693,798.5 697,798.5 701,798.5 705,799.5 709,799.5 713,799.5 717,799.5 721,799.5 725,799.5 729,799.5 733,798.5 737,798.5 741,797.5 745,797.5 749,796.5 753,796.5 757,796.5 761,795.5 765,795.5 769,795.5 773,794.5 777,794.5 781,793.5 785,792.5 789,792.5 793,791.5 797,790.5 801,789.5 805,788.5 809,787.5 813,787.5 817,788.5 821,789.5 825,791.5 829,794.5 833,796.5 837,799.5 841,802.5 845,804.5 849,807.5 853,808.5 857,808.5 861,808.5 865,808.5 869,807.5 873,806.5 877,805.5 881,803.5 885,802.5 889,801.5 893,800.5 897,800.5 901,799.5 905,799.5 909,799.5 913,799.5 917,799.5 921,800.5 925,800.5 929,800.5 933,800.5 937,800.5 941,800.5 945,799.5 949,798.5 953,797.5 957,796.5 961,795.5 965,794.5 969,793.5 973,792.5 977,792.5 981,791.5 985,791.5 989,791.5 993,790.5 997,789.5 1001,788.5 1005,787.5 1009,786.5 1013,785.5 1017,784.5 1021,783.5 1025,782.5 1029,782.5 1033,782.5 1037,782.5 1041,782.5 1045,782.5 1049,782.5 1053,783.5 1057,783.5 1061,782.5 1065,782.5 1069,781.5 1073,781.5 1077,780.5 1081,780.5 1085,778.5 1089,777.5 1093,776.5 1097,776.5 1101,775.5 1105,774.5 1109,772.5 1113,771.5 1117,770.5 1121,770.5 1125,769.5 1129,769.5 1133,769.5 1137,769.5 1141,769.5 1145,770.5 1149,770.5 1153,770.5 1157,771.5 1161,772.5 1165,772.5 1169,774.5 1173,775.5 1177,776.5 1181,777.5 1185,778.5 1189,779.5 1193,779.5 1197,779.5 1201,779.5 1205,779.5 1209,779.5 1213,778.5 1217,778.5 1221,778.5 1225,778.5 1229,778.5 1233,778.5 1237,778.5 1241,778.5 1245,778.5 1249,778.5 1253,778.5 1257,778.5 1261,779.5 1265,779.5 1269,780.5 1273,780.5 1277,781.5 1281,782.5 1285,782.5 1289,783.5" fill="none" stroke="#e8304a" stroke-width="1" shape-rendering="crispEdges"/>
<!-- shift marker -->
<path d="M1288.8 5H1300.2L1294.5 11.2z" fill="#7d8ba1"/>
<!-- black specks -->
<g fill="#000" shape-rendering="crispEdges">
<rect x="1418" y="72" width="4" height="3"/>
<rect x="1445" y="55" width="4" height="3"/>
<rect x="1483" y="56" width="3" height="4"/>
<rect x="1464" y="67" width="4" height="3"/>
<rect x="1478" y="186" width="3" height="3"/>
<rect x="1524" y="208" width="3" height="3"/>
</g>
<path d="M1447.6 71.6L1453.4 79.4" stroke="#000" stroke-width="3" fill="none"/>
<!-- red arrows -->
<g stroke="#ff1d25" stroke-width="3" fill="none" stroke-linecap="butt" stroke-linejoin="bevel">
<path d="M1319.4 134.6L1345 71"/>
<path d="M1333.6 82.8L1345 71L1341.8 93"/>
<path d="M1362.7 128.9L1393.8 36.3"/>
<path d="M1381.2 58.8L1393.8 36.3L1393.4 62"/>
</g>
<!-- white arrows -->
<g stroke="#fff" stroke-width="2.8" fill="none" stroke-linejoin="bevel">
<path d="M1354.7 194L1378 259L1410.9 153.2"/>
<path d="M1400.6 168.9L1410.9 153.2L1411.5 178"/>
<path d="M1367 279L1395.5 349L1446.2 203"/>
<path d="M1435.4 217.3L1446.2 203L1446.5 224"/>
</g>
<!-- labels -->
<g class="big" fill="#fff" stroke="#fff" stroke-width="0.8">
<text id="t_gold" transform="translate(414.9,54) scale(1.095,1)" font-size="25.6" stroke-width="1.4">GOLD</text>
<text id="t_m30" transform="translate(391,101.4) scale(1.2,1)" font-size="25.6" stroke-width="1.4">M30 Chart</text>
<text id="t_3945" transform="translate(1263.6,180.4) scale(1.19,1)" font-size="19.5">3945-50</text>
<text id="t_3890" transform="translate(1310.6,369.2) scale(1.19,1)" font-size="19.5">3890</text>
</g>
<g class="big" fill="#1e90ff" stroke="#1e90ff" stroke-width="0.8">
<text id="t_4050" transform="translate(1368.6,27.5) scale(1.19,1)" font-size="19.5">4050</text>
<text id="t_4000" transform="translate(1308.6,62.5) scale(1.19,1)" font-size="19.5">4000</text>
<text id="t_3920" transform="translate(1292.6,270.5) scale(1.19,1)" font-size="19.5">3920</text>
</g>
</svg>
</body></html>
